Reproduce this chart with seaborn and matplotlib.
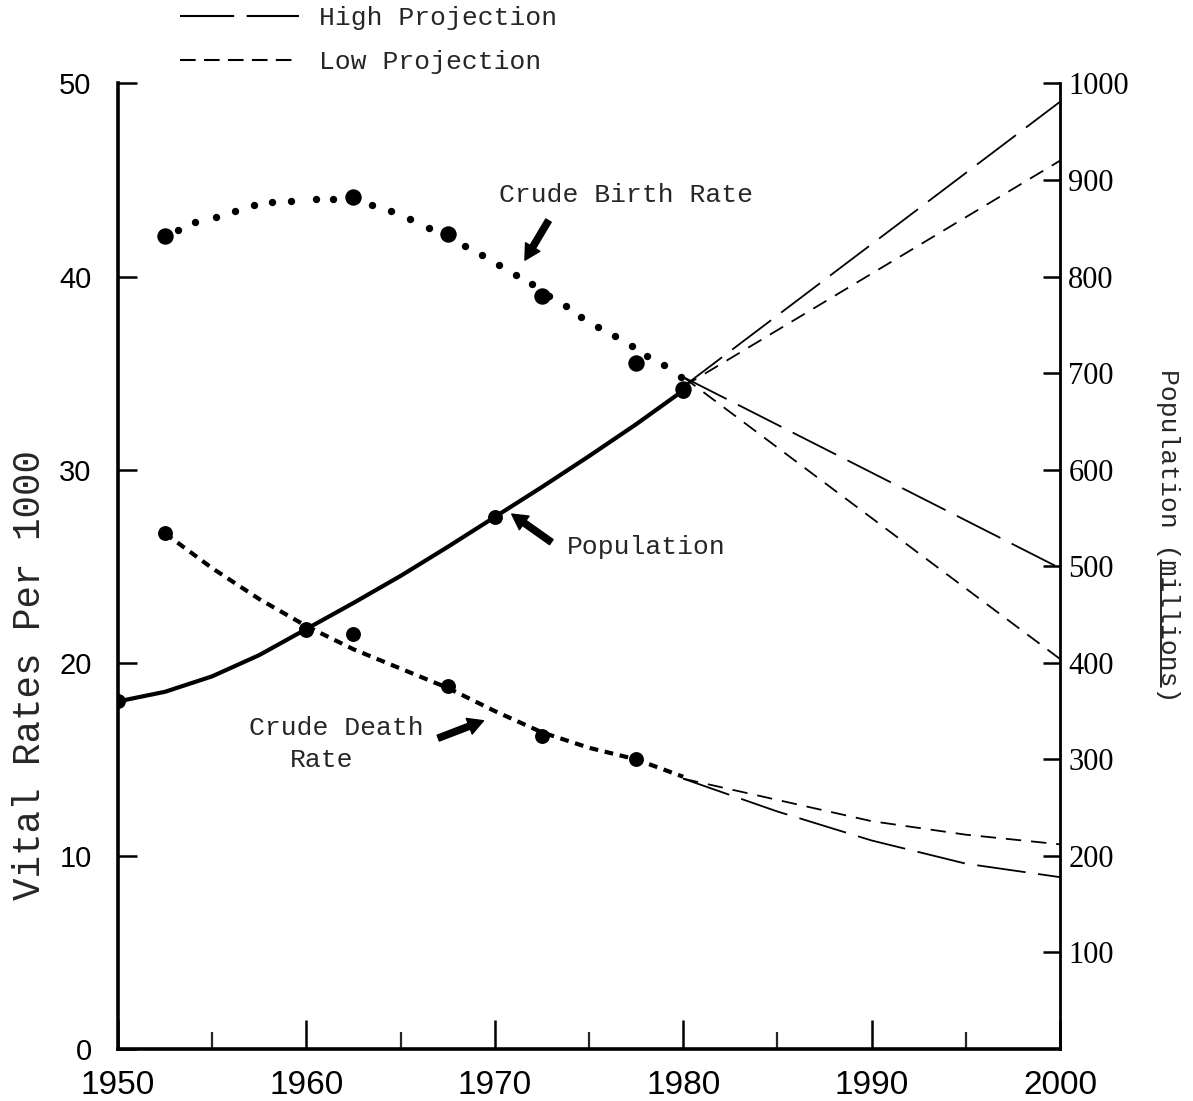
import matplotlib
matplotlib.use("Agg")
import matplotlib.pyplot as plt
import seaborn as sns
from matplotlib.lines import Line2D
from matplotlib.ticker import MultipleLocator

# ---------------- data ----------------
birth_years = [1952.5, 1962.5, 1967.5, 1972.5, 1977.5, 1980]
birth_rate = [42.1, 44.1, 42.2, 39.0, 35.5, 34.2]

birth_curve_years = [1953.2, 1954.1, 1955.2, 1956.2, 1957.2, 1958.2, 1959.2,
                     1960.5, 1961.4, 1963.5, 1964.5, 1965.5, 1966.5, 1968.4,
                     1969.3, 1970.2, 1971.1, 1972.0, 1972.9, 1973.8, 1974.6,
                     1975.5, 1976.4, 1977.3, 1978.1, 1979.0, 1979.9]
birth_curve_rate = [42.4, 42.8, 43.1, 43.4, 43.7, 43.85, 43.9,
                    44.0, 44.0, 43.7, 43.4, 43.0, 42.5, 41.6,
                    41.1, 40.6, 40.1, 39.6, 39.0, 38.5, 37.9,
                    37.4, 36.9, 36.4, 35.9, 35.4, 34.8]

death_years = [1952.5, 1960, 1962.5, 1967.5, 1972.5, 1977.5]
death_rate = [26.7, 21.7, 21.5, 18.8, 16.2, 15.0]
death_curve_years = [1952.5, 1955, 1957.5, 1960, 1962.5, 1965, 1967.5, 1970,
                     1972.5, 1975, 1977.5, 1980]
death_curve_rate = [26.7, 24.9, 23.3, 21.9, 20.7, 19.7, 18.7, 17.5,
                    16.4, 15.6, 15.0, 14.1]

pop_years = [1950, 1960, 1970, 1980]
pop_values = [360, 435, 551, 682]
pop_curve_years = [1950, 1952.5, 1955, 1957.5, 1960, 1962.5, 1965, 1967.5,
                   1970, 1972.5, 1975, 1977.5, 1980]
pop_curve_values = [360, 370, 386, 408, 435, 462, 490, 520,
                    551, 582, 614, 647, 682]

proj_years = [1980, 2000]
birth_high = [34.8, 24.9]
birth_low = [34.8, 20.2]
pop_high = [686, 981]
pop_low = [686, 920]

death_proj_years = [1980, 1985, 1990, 1995, 2000]
death_high = [14.0, 12.3, 10.8, 9.6, 8.9]
death_low = [14.0, 12.9, 11.8, 11.1, 10.6]

x_ticks = [1950, 1960, 1970, 1980, 1990, 2000]
left_ticks = [0, 10, 20, 30, 40, 50]
right_ticks = [100, 200, 300, 400, 500, 600, 700, 800, 900, 1000]

# ---------------- style ----------------
sns.set_style("white")
plt.rcParams["font.family"] = ["Liberation Mono", "DejaVu Sans"]
TXT = 19
NUM_SANS = ["Liberation Sans", "DejaVu Sans"]
NUM_SERIF = ["Liberation Serif", "DejaVu Serif"]

LONG = (0, (27, 7))
SHORT = (0, (8.5, 5.5))
PROJ_LW = 1.3

fig = plt.figure(figsize=(11.93, 11.01), dpi=100)
ax = fig.add_axes([0.0989, 0.0472, 0.7896, 0.877])
ax2 = ax.twinx()

# ---------------- birth rate ----------------
sns.scatterplot(x=birth_curve_years, y=birth_curve_rate, ax=ax, color="k",
                s=28, linewidth=0, zorder=4, legend=False)
sns.scatterplot(x=birth_years, y=birth_rate, ax=ax, color="k",
                s=140, linewidth=0, zorder=5, legend=False)
sns.lineplot(x=proj_years, y=birth_high, ax=ax, color="k", lw=PROJ_LW,
             linestyle=LONG, legend=False)
sns.lineplot(x=proj_years, y=birth_low, ax=ax, color="k", lw=PROJ_LW,
             linestyle=SHORT, legend=False)

# ---------------- death rate ----------------
sns.lineplot(x=death_curve_years, y=death_curve_rate, ax=ax, color="k", lw=3.0,
             linestyle=(0, (2.1, 1.6)), legend=False)
sns.scatterplot(x=death_years, y=death_rate, ax=ax, color="k",
                s=115, linewidth=0, zorder=5, legend=False)
sns.lineplot(x=death_proj_years, y=death_high, ax=ax, color="k", lw=PROJ_LW,
             linestyle=LONG, legend=False)
sns.lineplot(x=death_proj_years, y=death_low, ax=ax, color="k", lw=PROJ_LW,
             linestyle=SHORT, legend=False)

# ---------------- population (right axis) ----------------
sns.lineplot(x=pop_curve_years, y=pop_curve_values, ax=ax2, color="k", lw=3.0,
             legend=False)
sns.scatterplot(x=pop_years, y=pop_values, ax=ax2, color="k",
                s=115, linewidth=0, zorder=5, legend=False)
sns.lineplot(x=proj_years, y=pop_high, ax=ax2, color="k", lw=PROJ_LW,
             linestyle=LONG, legend=False)
sns.lineplot(x=proj_years, y=pop_low, ax=ax2, color="k", lw=PROJ_LW,
             linestyle=SHORT, legend=False)

# ---------------- axes ----------------
ax.set_xlim(1950, 2000)
ax.set_ylim(0, 50)
ax2.set_ylim(0, 1000)
ax.set_xticks(x_ticks)
ax.xaxis.set_minor_locator(MultipleLocator(5))
ax.set_yticks(left_ticks)
ax2.set_yticks(right_ticks)
ax.set_xlabel("")
ax.set_ylabel("")
ax2.set_ylabel("")

for a in (ax, ax2):
    a.spines["top"].set_visible(False)
    a.set_facecolor("none")
ax.spines["left"].set_linewidth(2.6)
ax.spines["bottom"].set_linewidth(2.6)
ax.spines["right"].set_visible(False)
ax2.spines["left"].set_visible(False)
ax2.spines["bottom"].set_visible(False)
ax2.spines["right"].set_linewidth(2.0)
for a in (ax, ax2):
    for s in a.spines.values():
        s.set_color("k")

ax.tick_params(axis="y", direction="in", length=14, width=1.8, pad=19,
               labelsize=21, colors="k", left=True)
ax.tick_params(axis="x", which="major", direction="in", length=21, width=1.8,
               pad=15, labelsize=24, colors="k", bottom=True)
ax.tick_params(axis="x", which="minor", direction="in", length=12, width=1.6,
               bottom=True)
ax2.tick_params(axis="y", direction="in", length=12, width=1.8, pad=6,
                labelsize=22, colors="k", right=True)

for lab in ax.get_yticklabels() + ax.get_xticklabels():
    lab.set_fontfamily(NUM_SANS)
ax2.set_yticklabels([str(t) for t in right_ticks], fontfamily=NUM_SERIF, fontsize=22)

# ---------------- axis titles ----------------
fig.text(30 / 1193, 1 - 675 / 1101, "Vital Rates Per 1000", rotation=90,
         ha="center", va="center", fontsize=27)
ylab2 = fig.text(1168 / 1193, 1 - 536 / 1101, "Population (millions)", rotation=270,
                 ha="center", va="center", fontsize=TXT)

# ---------------- annotations ----------------
arrow_kw = dict(facecolor="black", edgecolor="black", width=4.5, headwidth=12,
                headlength=11, shrink=0)
ax.text(1976.96, 44.2, "Crude Birth Rate", ha="center", va="center", fontsize=TXT)
ax.annotate("", xy=(1971.6, 40.85), xytext=(1972.85, 42.9), arrowprops=arrow_kw)
ax.text(1973.83, 26.0, "Population", ha="left", va="center", fontsize=TXT)
ax.annotate("", xy=(1970.9, 27.7), xytext=(1973.0, 26.25), arrowprops=arrow_kw)
ax.text(1961.6, 16.6, "Crude Death", ha="center", va="center", fontsize=TXT)
ax.text(1960.8, 14.95, "Rate", ha="center", va="center", fontsize=TXT)
ax.annotate("", xy=(1969.4, 17.0), xytext=(1967.0, 16.1), arrowprops=arrow_kw)

# ---------------- legend ----------------
handles = [Line2D([], [], color="k", lw=1.5, linestyle=(0, (26, 6))),
           Line2D([], [], color="k", lw=1.5, linestyle=(0, (7.5, 4.0)))]
fig.legend(handles, ["High Projection", "Low Projection"], loc="upper left",
           bbox_to_anchor=(180 / 1193, 1 - 6 / 1101), frameon=False,
           fontsize=TXT, handlelength=4.5, handletextpad=0.75, labelspacing=0.75,
           borderpad=0, borderaxespad=0)

# underline "millions"
fig.canvas.draw()
r = fig.canvas.get_renderer()
bb = ylab2.get_window_extent(r)
n = len("Population (millions)")
i0, i1 = len("Population ("), len("Population (millions")
ytop, ybot = bb.y1, bb.y0
h = ytop - ybot
fig.add_artist(Line2D([(bb.x0 + 5) / fig.bbox.width] * 2,
                      [(ytop - h * i0 / n) / fig.bbox.height,
                       (ytop - h * i1 / n) / fig.bbox.height],
                      color="k", lw=1.2))

fig.savefig("out.png", dpi=100, facecolor="white")
